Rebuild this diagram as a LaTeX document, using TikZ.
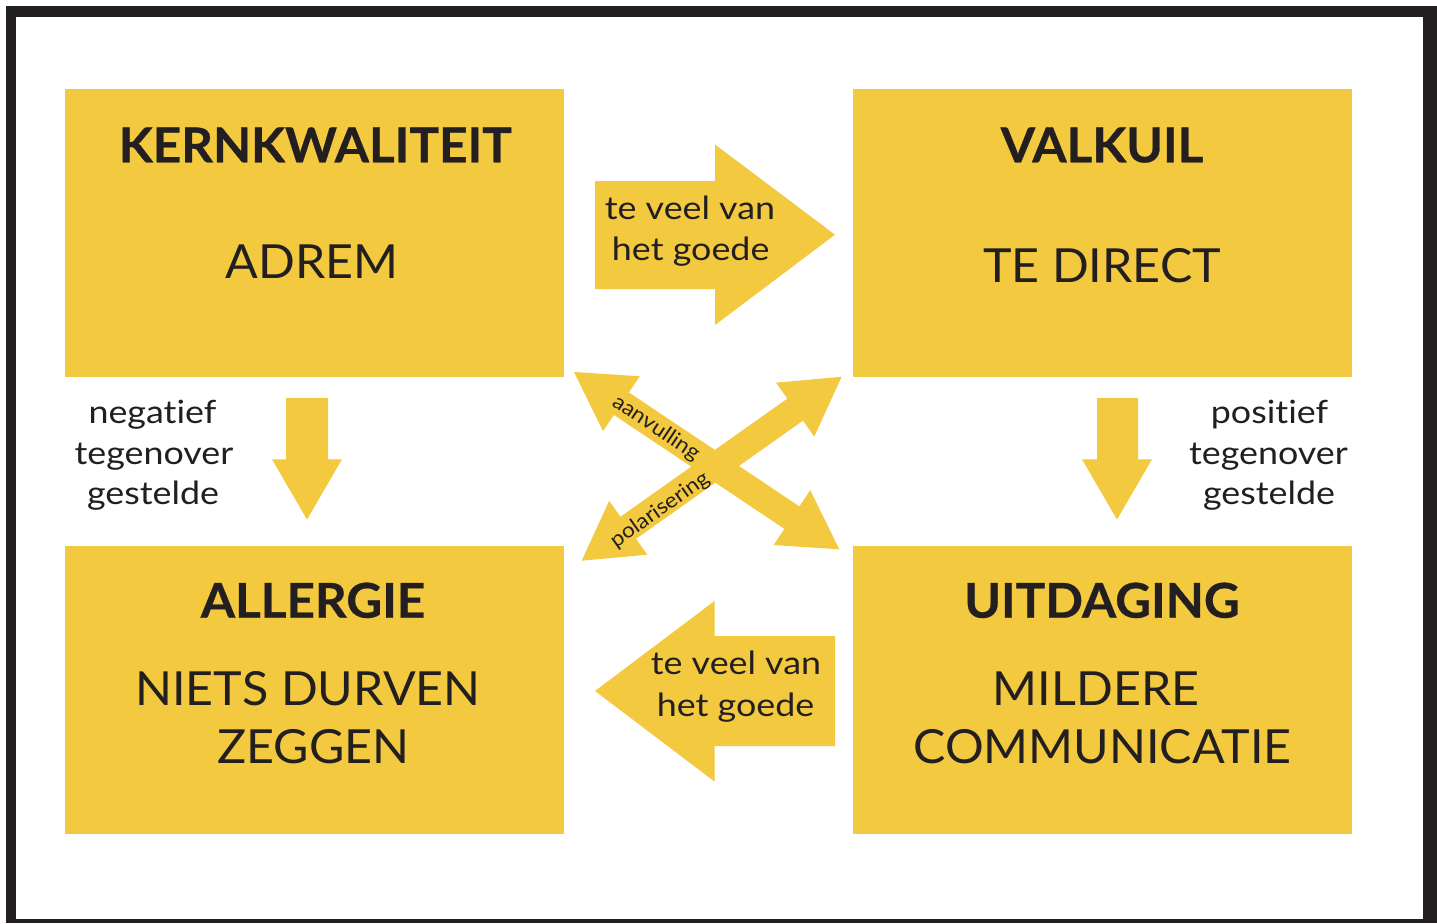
\documentclass[tikz,border=0pt]{standalone}
\usepackage{fontspec}
\setmainfont{Lato}[Ligatures=NoCommon]
\newfontfamily\headfont{Lato}[Ligatures=NoCommon, FakeStretch=1.03, BoldFeatures={FakeBold=0.6}]
\newfontfamily\mainfont{Lato}[Ligatures=NoCommon, FakeStretch=1.03]
\newfontfamily\smallfont{Lato}[Ligatures=NoCommon, FakeStretch=1.12]
\newfontfamily\tinyfont{Lato}[Ligatures=NoCommon, FakeStretch=1.08]
\definecolor{kyellow}{HTML}{F3C93F}
\definecolor{kink}{HTML}{231F20}
\begin{document}
\begin{tikzpicture}[x=0.5pt,y=-0.5pt,
  box/.style={fill=kyellow, inner sep=0pt, minimum width=249.5pt, minimum height=144pt},
  headtxt/.style={text=kink, inner sep=0pt, anchor=base, font=\headfont\bfseries\fontsize{24}{28}\selectfont},
  maintxt/.style={text=kink, inner sep=0pt, anchor=base, font=\mainfont\fontsize{23.5}{28}\selectfont},
  sidetxt/.style={text=kink, inner sep=0pt, anchor=base, font=\smallfont\fontsize{16}{19}\selectfont},
  arrtxt/.style={text=kink, inner sep=0pt, anchor=base, font=\smallfont\fontsize{16}{19}\selectfont},
  diagtxt/.style={text=kink, inner sep=0pt, anchor=center, font=\tinyfont\fontsize{10.5}{12}\selectfont},
  fatarrow/.style={fill=kyellow, draw=none}]
\useasboundingbox (0,0) rectangle (1437,923);
% frame
\fill[kink] (6,6) rectangle (1437,923);
\fill[white] (16,17) rectangle (1423,919);
% boxes
\node[box] (kern) at (314.5,233) {};
\node[box] (valk) at (1102.5,233) {};
\node[box] (alle) at (314.5,690) {};
\node[box] (uitd) at (1102.5,690) {};
% box texts
\node[headtxt] (kernT) at (315.3,162.3) {KERNKWALITEIT};
\node[maintxt] (kernV) at (312,278.5) {ADREM};
\node[headtxt] (valkT) at (1102,162.3) {VALKUIL};
\node[maintxt] (valkV) at (1102,282.7) {TE DIRECT};
\node[headtxt] (alleT) at (313,617.7) {ALLERGIE};
\node[maintxt] (alleV1) at (308,705) {NIETS DURVEN};
\node[maintxt] (alleV2) at (313.5,763) {ZEGGEN};
\node[headtxt] (uitdT) at (1102,617.7) {UITDAGING};
\node[maintxt] (uitdV1) at (1096,705) {MILDERE};
\node[maintxt] (uitdV2) at (1102.5,763) {COMMUNICATIE};
% right arrow (top)
\fill[fatarrow] (595,181) -- (715,181) -- (715,144.5) -- (835,234.7) -- (715,325) -- (715,289) -- (595,289) -- cycle;
\node[arrtxt] (tv1) at (690,219) {te veel van};
\node[arrtxt] (tv2) at (690.7,260) {het goede};
% left arrow (bottom)
\fill[fatarrow] (835,636) -- (714.5,636) -- (714.5,601) -- (595,691) -- (714.5,781.5) -- (714.5,746) -- (835,746) -- cycle;
\node[arrtxt] (bv1) at (736,674) {te veel van};
\node[arrtxt] (bv2) at (735.5,716) {het goede};
% down arrows
\fill[fatarrow] (286,398) -- (328,398) -- (328,459.3) -- (342,459.3) -- (307,519.5) -- (272,459.3) -- (286,459.3) -- cycle;
\fill[fatarrow] (1097,398) -- (1138,398) -- (1138,459.3) -- (1152,459.3) -- (1117,519.5) -- (1082,459.3) -- (1097,459.3) -- cycle;
% side texts
\node[sidetxt] (neg1) at (152.5,423.3) {negatief};
\node[sidetxt] (neg2) at (154,464.3) {tegenover};
\node[sidetxt] (neg3) at (153,504.5) {gestelde};
\node[sidetxt] (pos1) at (1269.5,423.3) {positief};
\node[sidetxt] (pos2) at (1268.5,464.3) {tegenover};
\node[sidetxt] (pos3) at (1269,504.5) {gestelde};
% diagonal double arrows
\begin{scope}[shift={(706.65,460.65)}, rotate=-33.75]
\fill[fatarrow] (-159.55,0) -- (-102.55,-33) -- (-102.55,-13.5) -- (102.55,-13.5) -- (102.55,-33) -- (159.55,0) -- (102.55,33) -- (102.55,13.5) -- (-102.55,13.5) -- (-102.55,33) -- cycle;
\end{scope}
\begin{scope}[shift={(711.7,468.7)}, rotate=35.29]
\fill[fatarrow] (-159.25,0) -- (-102.25,-33) -- (-102.25,-13.5) -- (102.25,-13.5) -- (102.25,-33) -- (159.25,0) -- (102.25,33) -- (102.25,13.5) -- (-102.25,13.5) -- (-102.25,33) -- cycle;
\end{scope}
\node[diagtxt, rotate=-33.75] (aanv) at (656,428) {aanvulling};
\node[diagtxt, rotate=35.29] (pola) at (660,510) {polarisering};
\end{tikzpicture}
\end{document}
